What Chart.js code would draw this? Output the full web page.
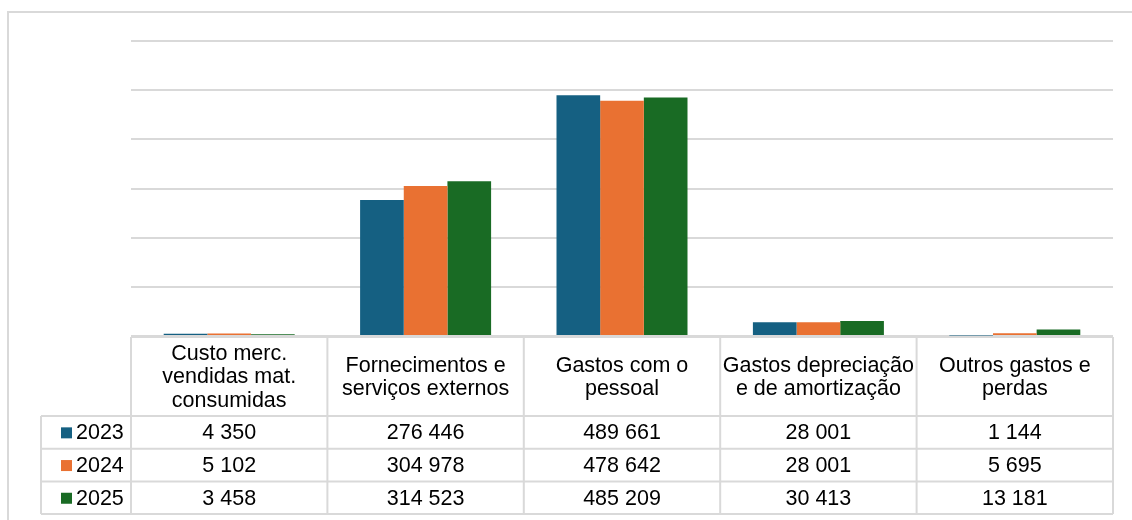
<!DOCTYPE html>
<html lang="pt">
<head>
  <meta charset="UTF-8">
  <title>gastos por natureza</title>
  <script src="https://cdn.jsdelivr.net/npm/chart.js"></script>
  <style>
    body { margin: 0; background: #fff; }
  </style>
</head>
<body>
  <canvas id="gastosChart" width="1132" height="520"></canvas>

  <script>
    const categories = [
      ["Custo merc.", "vendidas mat.", "consumidas"],
      ["Fornecimentos e", "serviços externos"],
      ["Gastos com o", "pessoal"],
      ["Gastos depreciação", "e de amortização"],
      ["Outros gastos e", "perdas"]
    ]
    const years = ["2023", "2024", "2025"]
    const values2023 = [4350, 276446, 489661, 28001, 1144]
    const values2024 = [5102, 304978, 478642, 28001, 5695]
    const values2025 = [3458, 314523, 485209, 30413, 13181]
    const colors = ["#156082", "#e97132", "#196b24"]
    const yTicksMax = 600000
    const yTicksStep = 100000

    const lineColor = "#d9d9d9"
    const textFont = "21.5px 'Liberation Sans', Arial, sans-serif"

    function fmt(v) {
      return String(v).replace(/\B(?=(\d{3})+(?!\d))/g, " ")
    }

    // outer frame + data table under the plot
    const tablePlugin = {
      id: "dataTable",
      beforeDraw(chart) {
        const ctx = chart.ctx
        ctx.save()
        ctx.strokeStyle = lineColor
        ctx.lineWidth = 2
        ctx.strokeRect(8, 12, 1300, 700)
        ctx.restore()
      },
      afterDraw(chart) {
        const ctx = chart.ctx
        const area = chart.chartArea
        const n = categories.length
        const colW = (area.right - area.left) / n
        const top = area.bottom + 1
        const headerBottom = top + 79
        const rowH = 32.7
        const rowsBottom = headerBottom + rowH * years.length
        const labelLeft = 41

        ctx.save()
        ctx.strokeStyle = lineColor
        ctx.lineWidth = 2

        ctx.beginPath()
        // horizontal lines
        ctx.moveTo(area.left, top)
        ctx.lineTo(area.right, top)
        for (let r = 0; r <= years.length; r++) {
          const y = headerBottom + r * rowH
          ctx.moveTo(labelLeft, y)
          ctx.lineTo(area.right, y)
        }
        // vertical lines
        for (let c = 0; c <= n; c++) {
          const x = area.left + c * colW
          ctx.moveTo(x, top)
          ctx.lineTo(x, rowsBottom)
        }
        ctx.moveTo(labelLeft, headerBottom)
        ctx.lineTo(labelLeft, rowsBottom)
        ctx.stroke()

        ctx.fillStyle = "#000"
        ctx.font = textFont
        ctx.textAlign = "center"
        ctx.textBaseline = "middle"

        // header
        const lineH = 23.5
        categories.forEach((lines, i) => {
          const cx = area.left + (i + 0.5) * colW
          const cy = (top + headerBottom) / 2
          lines.forEach((txt, k) => {
            const y = cy + (k - (lines.length - 1) / 2) * lineH
            ctx.fillText(txt, cx, y + 1)
          })
        })

        // rows
        chart.data.datasets.forEach((ds, r) => {
          const cy = headerBottom + (r + 0.5) * rowH + 1
          ctx.fillStyle = ds.backgroundColor
          ctx.fillRect(61, cy - 6, 11, 11)
          ctx.fillStyle = "#000"
          ctx.textAlign = "left"
          ctx.fillText(ds.label, 76, cy)
          ctx.textAlign = "center"
          ds.data.forEach((v, i) => {
            const cx = area.left + (i + 0.5) * colW
            ctx.fillText(fmt(v), cx, cy)
          })
        })
        ctx.restore()
      }
    }

    const ctx = document.getElementById("gastosChart").getContext("2d")
    const gastosChart = new Chart(ctx, {
      type: "bar",
      data: {
        labels: categories,
        datasets: [
          { label: years[0], data: values2023, backgroundColor: colors[0] },
          { label: years[1], data: values2024, backgroundColor: colors[1] },
          { label: years[2], data: values2025, backgroundColor: colors[2] }
        ]
      },
      options: {
        responsive: false,
        animation: false,
        layout: {
          padding: { left: 131, right: 19, top: 41, bottom: 184 }
        },
        datasets: {
          bar: { categoryPercentage: 0.667, barPercentage: 1.0 }
        },
        plugins: {
          legend: { display: false },
          tooltip: { enabled: false }
        },
        scales: {
          x: {
            ticks: { display: false },
            grid: { display: false, drawTicks: false },
            border: { display: false }
          },
          y: {
            min: 0,
            max: yTicksMax,
            ticks: { display: false, stepSize: yTicksStep },
            grid: { color: lineColor, lineWidth: 2, drawTicks: false },
            border: { display: false }
          }
        }
      },
      plugins: [tablePlugin]
    })
  </script>
</body>
</html>
